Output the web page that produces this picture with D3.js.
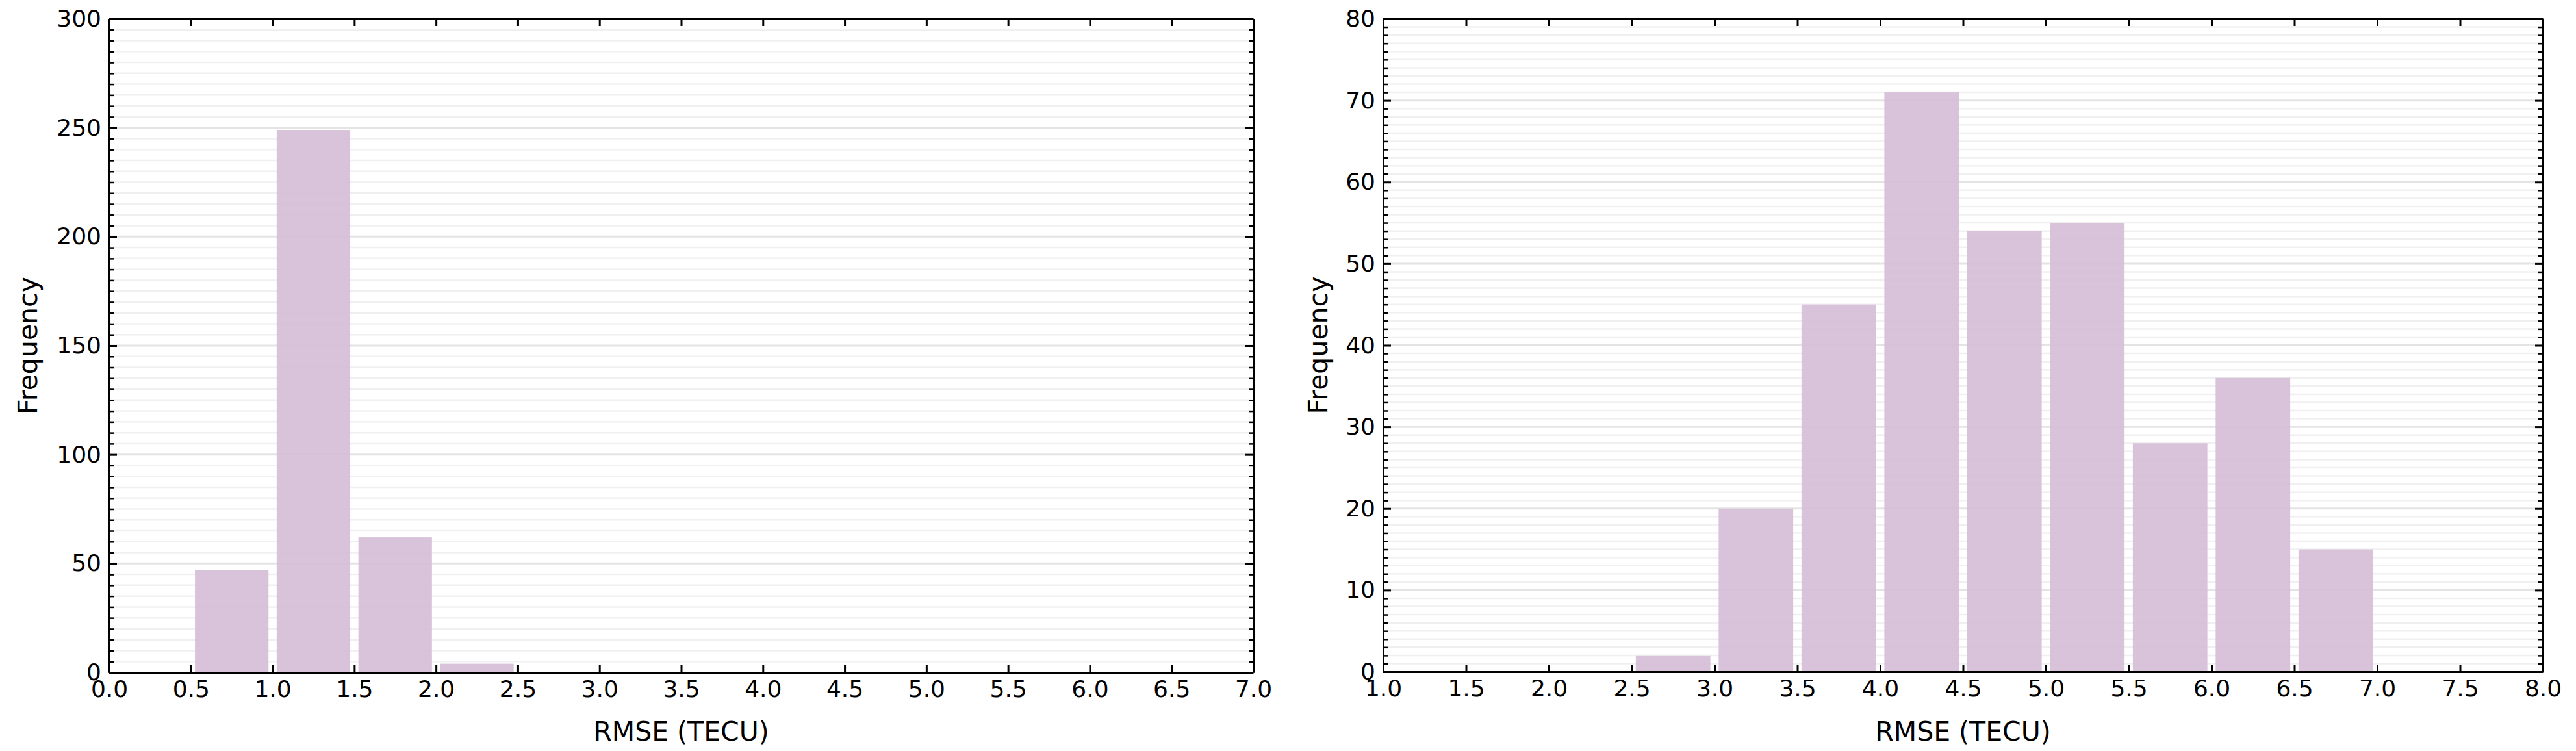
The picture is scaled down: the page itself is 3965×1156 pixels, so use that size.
<!doctype html>
<html>
<head>
<meta charset="utf-8">
<script src="https://d3js.org/d3.v7.min.js"></script>
<style>
  body { margin: 0; background: #fff; }
  svg text { font-family: "DejaVu Sans", sans-serif; fill: #000; }
</style>
</head>
<body>
<script>
// ---- data ----
var binWidth = 0.5;

// left panel
var leftBinStart = [0.5, 1.0, 1.5, 2.0];
var leftCounts   = [47, 249, 62, 4];
var leftXTicks   = [0.0, 0.5, 1.0, 1.5, 2.0, 2.5, 3.0, 3.5, 4.0, 4.5, 5.0, 5.5, 6.0, 6.5, 7.0];
var leftYTicks   = [0, 50, 100, 150, 200, 250, 300];

// right panel
var rightBinStart = [2.5, 3.0, 3.5, 4.0, 4.5, 5.0, 5.5, 6.0, 6.5];
var rightCounts   = [2, 20, 45, 71, 54, 55, 28, 36, 15];
var rightXTicks   = [1.0, 1.5, 2.0, 2.5, 3.0, 3.5, 4.0, 4.5, 5.0, 5.5, 6.0, 6.5, 7.0, 7.5, 8.0];
var rightYTicks   = [0, 10, 20, 30, 40, 50, 60, 70, 80];

var xTitle = "RMSE (TECU)";
var yTitle = "Frequency";

var svg = d3.select("body").append("svg")
    .attr("width", 3965).attr("height", 1156);

function panel(opts) {
    var x = d3.scaleLinear().domain(opts.xDomain).range([opts.left, opts.right]);
    var y = d3.scaleLinear().domain(opts.yDomain).range([opts.bottom, opts.top]);
    var g = svg.append("g");

    // minor y values for grid + minor ticks
    var minor = d3.range(opts.yDomain[0], opts.yDomain[1] + 1e-9, opts.minorStep);
    var isMajor = function(v) { return opts.yTicks.indexOf(v) >= 0; };

    // grid
    g.append("g").selectAll("line")
        .data(minor.filter(function(v) { return v > opts.yDomain[0] && v < opts.yDomain[1]; }))
        .enter().append("line")
        .attr("x1", opts.left).attr("x2", opts.right)
        .attr("y1", function(d) { return y(d); })
        .attr("y2", function(d) { return y(d); })
        .style("stroke", function(d) { return isMajor(d) ? "#e4e4e4" : "#f0f0f0"; })
        .style("stroke-width", function(d) { return isMajor(d) ? 3 : 2.5; });

    // bars
    g.append("g").selectAll("rect")
        .data(opts.starts.map(function(s, i) { return {x0: s, x1: s + binWidth, n: opts.counts[i]}; }))
        .enter().append("rect")
        .attr("x", function(d) { return x(d.x0 + binWidth * 0.05); })
        .attr("width", function(d) { return x(d.x1 - binWidth * 0.05) - x(d.x0 + binWidth * 0.05); })
        .attr("y", function(d) { return y(d.n); })
        .attr("height", function(d) { return y(0) - y(d.n); })
        .style("fill", "rgb(213,189,214)")
        .style("fill-opacity", 0.9);

    var fmt = d3.format(".1f");

    function styleAxis(sel, fs) {
        sel.selectAll("path.domain").style("stroke", "#000").style("stroke-width", 3);
        sel.selectAll(".tick line").style("stroke", "#000").style("stroke-width", 3);
        sel.selectAll(".tick text").style("font-size", fs + "px").style("font-family", "DejaVu Sans");
    }

    // bottom
    var bx = g.append("g").attr("transform", "translate(0," + opts.bottom + ")")
        .call(d3.axisBottom(x).tickValues(opts.xTicks).tickFormat(fmt).tickSize(-11).tickSizeOuter(0).tickPadding(12));
    styleAxis(bx, 36);
    // top
    var tx = g.append("g").attr("transform", "translate(0," + opts.top + ")")
        .call(d3.axisTop(x).tickValues(opts.xTicks).tickFormat("").tickSize(-11).tickSizeOuter(0));
    styleAxis(tx, 36);
    // left minor
    var lm = g.append("g").attr("transform", "translate(" + opts.left + ",0)")
        .call(d3.axisLeft(y).tickValues(minor.filter(function(v) { return !isMajor(v); })).tickFormat("").tickSize(-7).tickSizeOuter(0));
    styleAxis(lm, 36);
    lm.selectAll(".tick line").style("stroke-width", 2.5);
    // left major
    var ly = g.append("g").attr("transform", "translate(" + opts.left + ",0)")
        .call(d3.axisLeft(y).tickValues(opts.yTicks).tickFormat(d3.format("d")).tickSize(-12).tickSizeOuter(0).tickPadding(12));
    styleAxis(ly, 36);
    // right minor
    var rm = g.append("g").attr("transform", "translate(" + opts.right + ",0)")
        .call(d3.axisRight(y).tickValues(minor.filter(function(v) { return !isMajor(v); })).tickFormat("").tickSize(-7).tickSizeOuter(0));
    styleAxis(rm, 36);
    rm.selectAll(".tick line").style("stroke-width", 2.5);
    // right major
    var ry = g.append("g").attr("transform", "translate(" + opts.right + ",0)")
        .call(d3.axisRight(y).tickValues(opts.yTicks).tickFormat("").tickSize(-12).tickSizeOuter(0));
    styleAxis(ry, 36);

    // titles
    g.append("text")
        .attr("x", (opts.left + opts.right) / 2).attr("y", 1140)
        .attr("text-anchor", "middle")
        .style("font-size", "41px")
        .text(xTitle);
    g.append("text")
        .attr("transform", "translate(" + opts.yLabelX + "," + (opts.top + opts.bottom) / 2 + ") rotate(-90)")
        .attr("text-anchor", "middle")
        .style("font-size", "41px")
        .text(yTitle);
}

panel({
    xDomain: [0, 7], yDomain: [0, 300],
    left: 168, right: 1929, top: 29, bottom: 1035,
    starts: leftBinStart, counts: leftCounts,
    xTicks: leftXTicks, yTicks: leftYTicks, minorStep: 5,
    yLabelX: 57
});

panel({
    xDomain: [1, 8], yDomain: [0, 80],
    left: 2129, right: 3914, top: 29, bottom: 1034,
    starts: rightBinStart, counts: rightCounts,
    xTicks: rightXTicks, yTicks: rightYTicks, minorStep: 1,
    yLabelX: 2043
});
</script>
</body>
</html>
